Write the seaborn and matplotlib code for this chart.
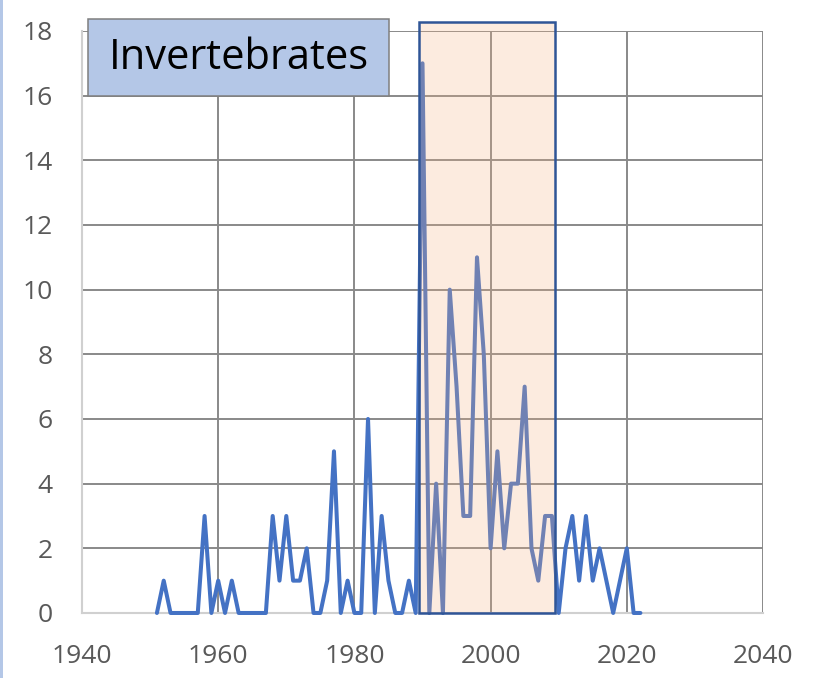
import matplotlib
matplotlib.use("Agg")
import matplotlib.pyplot as plt
import matplotlib.patches as patches
import seaborn as sns
import pandas as pd

# yearly counts
years = list(range(1951, 2023))
counts = [0, 1, 0, 0, 0, 0, 0, 3, 0, 1,
          0, 1, 0, 0, 0, 0, 0, 3, 1, 3,
          1, 1, 2, 0, 0, 1, 5, 0, 1, 0,
          0, 6, 0, 3, 1, 0, 0, 1, 0, 17,
          0, 4, 0, 10, 7, 3, 3, 11, 8, 2,
          5, 2, 4, 4, 7, 2, 1, 3, 3, 0,
          2, 3, 1, 3, 1, 2, 1, 0, 1, 2,
          0, 0]
x_ticks = [1940, 1960, 1980, 2000, 2020, 2040]
y_ticks = [0, 2, 4, 6, 8, 10, 12, 14, 16, 18]
highlight = (1989.5, 2009.4)
label = "Invertebrates"

df = pd.DataFrame({"year": years, "count": counts})

sns.set_style("white")
plt.rcParams['font.family'] = ['Open Sans', 'DejaVu Sans']

fig = plt.figure(figsize=(8.2, 6.78), dpi=100)
ax = fig.add_axes([0.1, 0.0959, 0.8305, 0.8584])

sns.lineplot(data=df, x="year", y="count", ax=ax, color="#4472c4", linewidth=2.9)
for ln in ax.lines:
    ln.set_clip_on(False)
    ln.set_zorder(3)

ax.set_xlim(1940, 2040)
ax.set_ylim(0, 18)
ax.set_xticks(x_ticks)
ax.set_yticks(y_ticks)
ax.set_xlabel("")
ax.set_ylabel("")
ax.tick_params(axis="both", length=0, labelsize=19, labelcolor="#595959")
ax.tick_params(axis="x", pad=22)
ax.tick_params(axis="y", pad=21)
ax.grid(True, color="#898989", linewidth=1.4)
ax.set_axisbelow(True)
for side in ["top", "right"]:
    ax.spines[side].set_visible(False)
for side in ["left", "bottom"]:
    ax.spines[side].set_color("#d0d0d0")
    ax.spines[side].set_linewidth(1.5)
    ax.spines[side].set_zorder(2)

# highlighted period
rect = patches.Rectangle((highlight[0], 0), highlight[1] - highlight[0], 18.28,
                         facecolor=(0.957, 0.694, 0.514, 0.25), edgecolor="#2f5597",
                         linewidth=1.8, clip_on=False, zorder=4)
ax.add_patch(rect)

# title box
box = patches.Rectangle((0.1073, 0.8584), 0.367, 0.1136, transform=fig.transFigure,
                        facecolor="#b4c7e7", edgecolor="#7f7f7f", linewidth=1.1, zorder=5)
fig.patches.append(box)
fig.text(0.2908, 0.915, label, ha="center", va="center", fontsize=30, color="black", zorder=6)

# thin strip on the left edge
fig.patches.append(patches.Rectangle((0, 0), 3 / 820, 1, transform=fig.transFigure,
                                     facecolor="#b4c7e7", edgecolor="none"))

fig.savefig("out.png", dpi=100)
